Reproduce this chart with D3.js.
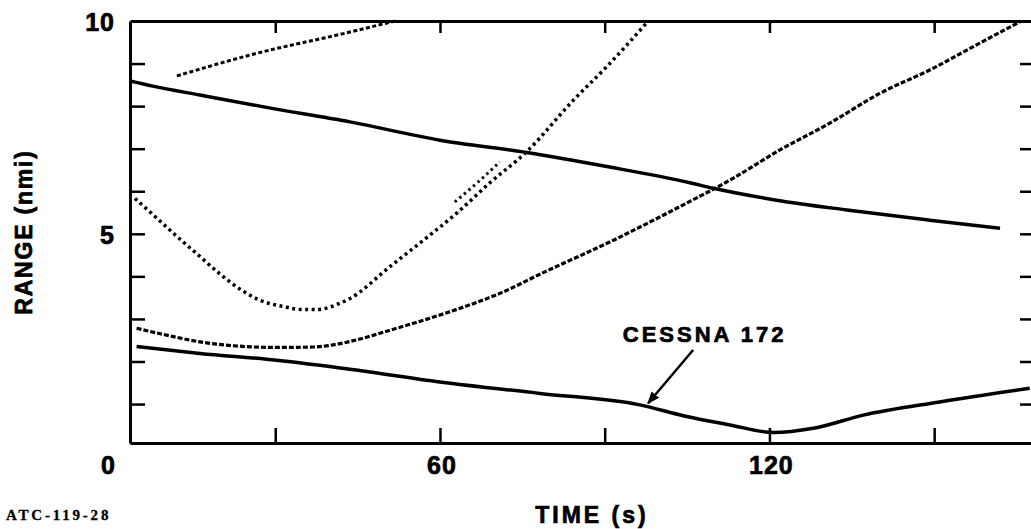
<!DOCTYPE html>
<html>
<head>
<meta charset="utf-8">
<script src="https://cdn.jsdelivr.net/npm/d3@7"></script>
<style>
  html, body { margin: 0; padding: 0; background: #fff; }
  svg { display: block; }
  text { font-family: "Liberation Sans", Arial, sans-serif; font-weight: bold; fill: #000; stroke: #000; stroke-width: 0.7px; }
</style>
</head>
<body>
<svg id="chart" width="1031" height="529"></svg>
<script>
// ---- data (time in s, range in nmi) ----
const xTicks = [30, 60, 90, 120, 150];
const xTickLabels = [0, 60, 120];
const yTicks = [1, 2, 3, 4, 5, 6, 7, 8, 9];
const yTickLabels = [10, 5];

const trackA = [[12.1, 8.71], [26, 9.22], [43.6, 9.74], [51.8, 10.0]];
const trackB = [[3.6, 8.59], [7.7, 8.47], [16.3, 8.26], [28.4, 7.97], [43.6, 7.63], [60, 7.20],
                [75.8, 6.91], [90.4, 6.58], [105.5, 6.20], [109.8, 6.07], [121.3, 5.79],
                [134.1, 5.56], [149.2, 5.32], [162, 5.13]];
const trackC = [[4.45, 5.83], [8, 5.42], [12, 4.95], [16, 4.5], [20, 4.05], [23.6, 3.70], [27, 3.45],
                [31.5, 3.29], [35, 3.22], [37.5, 3.22], [41.8, 3.37], [43.6, 3.48], [50.9, 4.23],
                [57, 4.85], [63, 5.48], [69.1, 6.2], [75.8, 6.93], [84.3, 8.14], [90.4, 8.93], [97.6, 9.95]];
const trackCBranch = [[62.7, 5.75], [66.8, 6.2], [70.9, 6.69]];
const trackD = [[4.75, 2.78], [10.2, 2.62], [16.3, 2.46], [22.4, 2.37], [30.2, 2.33], [36.9, 2.34],
                [41.8, 2.42], [43.6, 2.47], [52.1, 2.78], [61.8, 3.17], [70.9, 3.60], [79, 4.1],
                [91.6, 4.85], [103.7, 5.64], [112.8, 6.26], [121.9, 6.97], [131, 7.60],
                [140.1, 8.30], [149.2, 8.85], [158.3, 9.48], [165.6, 9.98]];
const cessna = [[4.75, 2.35], [16.3, 2.19], [30.2, 2.03], [43.6, 1.82], [60, 1.52], [78.2, 1.25],
                [96.4, 0.98], [104.5, 0.72], [112.8, 0.51], [120.7, 0.33], [128, 0.43],
                [137.1, 0.74], [151, 1.05], [167.4, 1.37]];
const annoLabel = "CESSNA 172";
const annoText = [93.3, 2.46];
const annoFrom = [106.1, 2.27];
const annoTo = [97.9, 1.02];

// ---- layout ----
const svg = d3.select("#chart");
const mLeft = 130, mRight = 1033, mTop = 21, mBottom = 443;
const x = d3.scaleLinear().domain([3.55, 168]).range([mLeft, mRight]);
const y = d3.scaleLinear().domain([0.085, 10]).range([mBottom, mTop]);

const lineGen = d3.line().x(d => x(d[0])).y(d => y(d[1])).curve(d3.curveMonotoneX);

// axes (frame with inward ticks)
function styleAxis(g) {
  g.selectAll("path.domain").attr("stroke", "#000").attr("stroke-width", 3);
  g.selectAll(".tick line").attr("stroke", "#000").attr("stroke-width", 2.5);
  g.selectAll(".tick text").remove();
}
svg.append("g").attr("transform", `translate(0,${mBottom})`)
  .call(d3.axisBottom(x).tickValues(xTicks).tickSize(-15).tickSizeOuter(0).tickFormat(""))
  .call(styleAxis);
svg.append("g").attr("transform", `translate(0,${mTop})`)
  .call(d3.axisTop(x).tickValues(xTicks).tickSize(-12).tickSizeOuter(0).tickFormat(""))
  .call(styleAxis);
svg.append("g").attr("transform", `translate(${mLeft},0)`)
  .call(d3.axisLeft(y).tickValues(yTicks).tickSize(-15).tickSizeOuter(0).tickFormat(""))
  .call(styleAxis);
svg.append("g").attr("transform", `translate(${mRight},0)`)
  .call(d3.axisRight(y).tickValues(yTicks).tickSize(-13).tickSizeOuter(0).tickFormat(""))
  .call(styleAxis);

// tick labels
svg.selectAll("text.ylab").data(yTickLabels).enter().append("text")
  .attr("class", "ylab")
  .attr("x", mLeft - 15).attr("y", d => y(d) + 1)
  .attr("text-anchor", "end").attr("dominant-baseline", "central")
  .attr("font-size", 25).attr("letter-spacing", 1)
  .text(d => d);
svg.selectAll("text.xlab").data(xTickLabels).enter().append("text")
  .attr("class", "xlab")
  .attr("x", d => x(d) + (d === 0 ? -2 : 2)).attr("y", mBottom + 22)
  .attr("text-anchor", "middle").attr("dominant-baseline", "central")
  .attr("font-size", 25).attr("letter-spacing", 1)
  .text(d => d);

// axis titles
svg.append("text")
  .attr("transform", `translate(24,232) rotate(-90)`)
  .attr("text-anchor", "middle").attr("dominant-baseline", "central")
  .attr("font-size", 23).attr("letter-spacing", 1.8)
  .text("RANGE (nmi)");
svg.append("text")
  .attr("x", 592).attr("y", 515)
  .attr("text-anchor", "middle").attr("dominant-baseline", "central")
  .attr("font-size", 23).attr("letter-spacing", 3)
  .text("TIME (s)");
svg.append("text")
  .attr("x", 6).attr("y", 520)
  .style("font-family", "'Liberation Serif', serif")
  .style("stroke-width", "0.3px")
  .attr("font-size", 15).attr("letter-spacing", 2.8)
  .text("ATC-119-28");

// clip to plot
svg.append("clipPath").attr("id", "plotclip")
  .append("rect").attr("x", mLeft).attr("y", mTop - 2).attr("width", mRight - mLeft).attr("height", mBottom - mTop + 2);
const plot = svg.append("g").attr("clip-path", "url(#plotclip)");

const series = [
  { data: trackA, dash: "4,2.5", w: 3 },
  { data: trackB, dash: null, w: 3.5 },
  { data: trackC, dash: "3,3.5", w: 3.5 },
  { data: trackCBranch, dash: "2.5,3.5", w: 3 },
  { data: trackD, dash: "5,2", w: 3.2 },
  { data: cessna, dash: null, w: 3.5 }
];
plot.selectAll("path.track").data(series).enter().append("path")
  .attr("class", "track")
  .attr("d", d => lineGen(d.data))
  .attr("fill", "none").attr("stroke", "#000")
  .attr("stroke-width", d => d.w)
  .attr("stroke-dasharray", d => d.dash);

// annotation
svg.append("defs").append("marker")
  .attr("id", "arrow").attr("viewBox", "0 0 10 10")
  .attr("refX", 9).attr("refY", 5)
  .attr("markerWidth", 5).attr("markerHeight", 5)
  .attr("orient", "auto")
  .append("path").attr("d", "M0,1 L10,5 L0,9 Z").attr("fill", "#000");
svg.append("line")
  .attr("x1", x(annoFrom[0])).attr("y1", y(annoFrom[1]))
  .attr("x2", x(annoTo[0])).attr("y2", y(annoTo[1]))
  .attr("stroke", "#000").attr("stroke-width", 2.5)
  .attr("marker-end", "url(#arrow)");
svg.append("text")
  .attr("x", x(annoText[0])).attr("y", y(annoText[1]))
  .attr("font-size", 22).attr("letter-spacing", 3)
  .text(annoLabel);
</script>
</body>
</html>
